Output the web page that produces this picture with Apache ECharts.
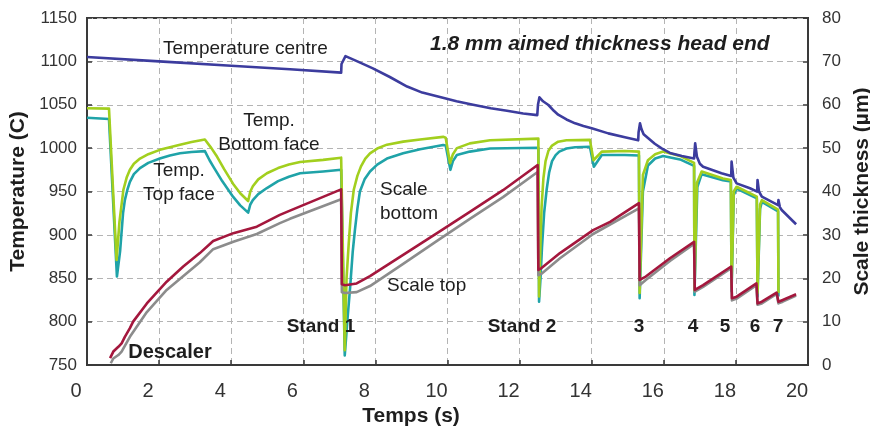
<!DOCTYPE html>
<html>
<head>
<meta charset="utf-8">
<script src="https://cdn.jsdelivr.net/npm/echarts@6/dist/echarts.min.js"></script>
<style>
  html, body { margin: 0; padding: 0; background: #fff; }
  #chart { width: 870px; height: 429px; }
</style>
</head>
<body>
<div id="chart"></div>
<script>
// Axis ranges and ticks
const timeAxis = { min: 0, max: 20, step: 2 };
const tempAxis = { min: 750, max: 1150, step: 50 };
const scaleAxis = { min: 0, max: 80, step: 10 };

// Temperature at the strip centre (°C) vs time (s)
const centreTemp = [
  [0, 1105], [2, 1100], [4, 1095], [5.63, 1091], [7.05, 1087], [7.06, 1097], [7.17, 1106],
  [7.5, 1100], [7.93, 1092], [8.4, 1082], [8.88, 1071], [9.3, 1064], [9.79, 1059], [10.25, 1054],
  [10.71, 1050], [11.2, 1046], [11.65, 1043], [12.1, 1040], [12.49, 1038], [12.51, 1050],
  [12.55, 1058.6], [12.65, 1054], [12.8, 1049.7], [12.95, 1043], [13.07, 1038.5], [13.3, 1033],
  [13.54, 1028.6], [13.77, 1025.5], [14.0, 1023], [14.46, 1017], [14.92, 1012.5], [15.29, 1009],
  [15.3, 1018], [15.34, 1028.6], [15.38, 1022], [15.44, 1016], [15.57, 1011.3], [15.75, 1005],
  [15.94, 999.8], [16.17, 994.5], [16.5, 991], [16.84, 988],
  [16.85, 995], [16.87, 1005.6], [16.92, 990], [17.0, 982], [17.09, 978.5], [17.6, 971],
  [17.87, 967.9], [17.88, 984.4], [17.93, 966], [18.02, 959.4], [18.39, 953.7], [18.59, 949.8],
  [18.6, 963.3], [18.64, 950], [18.72, 944], [19.17, 934.4], [19.18, 940.2], [19.22, 932],
  [19.27, 928.7], [19.67, 912.2]
];

// Bottom face temperature (°C)
const bottomFaceTemp = [
  [0, 1046], [0.61, 1045.5], [0.82, 871], [0.9, 915], [1.01, 952], [1.1, 966], [1.19, 975],
  [1.3, 982], [1.47, 988], [1.7, 993], [2.02, 998], [2.3, 1001], [2.58, 1004], [2.9, 1007],
  [3.27, 1010], [3.45, 1000], [3.61, 990], [3.8, 976], [4.05, 959], [4.25, 948], [4.47, 939],
  [4.53, 950], [4.6, 956], [4.75, 964], [4.99, 971], [5.3, 977], [5.6, 981], [5.91, 984],
  [6.55, 986.5], [7.05, 989], [7.15, 767], [7.2, 850], [7.26, 890], [7.32, 925], [7.4, 952],
  [7.5, 968], [7.6, 979], [7.72, 988], [7.85, 994], [8.05, 999.5], [8.32, 1004], [8.77, 1007.5],
  [9.24, 1010], [9.88, 1013], [9.95, 1012], [10.07, 982.5], [10.15, 993], [10.26, 1000],
  [10.62, 1005.5], [11.18, 1009], [12.52, 1011], [12.54, 829], [12.58, 890], [12.61, 932],
  [12.66, 965], [12.72, 985], [12.8, 997], [12.9, 1003], [13.07, 1007.4], [13.3, 1009],
  [13.95, 1009.5], [14.05, 986], [14.28, 996], [14.92, 996.7], [15.31, 996], [15.33, 833],
  [15.42, 969], [15.56, 986], [15.76, 993], [15.98, 996], [16.45, 991], [16.84, 983],
  [16.85, 836], [16.92, 960], [17.05, 973], [17.64, 965], [17.86, 963.3], [17.88, 840],
  [17.94, 950], [18.02, 955.5], [18.58, 944], [18.6, 833], [18.67, 935], [18.72, 940],
  [19.17, 929], [19.18, 833]
];

// Top face temperature (°C)
const topFaceTemp = [
  [0, 1035], [0.61, 1033.5], [0.83, 852], [0.92, 882], [1.0, 925], [1.05, 940], [1.12, 952],
  [1.19, 961], [1.3, 970], [1.47, 977], [1.7, 983], [2.02, 988], [2.3, 991.5], [2.58, 994],
  [2.9, 995.5], [3.27, 996.5], [3.4, 986], [3.5, 979], [3.75, 962], [4.05, 944], [4.25, 934],
  [4.47, 925.6], [4.53, 935], [4.6, 940], [4.75, 947], [4.99, 954], [5.3, 962], [5.6, 967],
  [5.91, 971], [6.55, 973], [7.05, 975], [7.15, 761], [7.22, 800], [7.3, 840], [7.37, 880],
  [7.43, 905], [7.5, 930], [7.57, 950], [7.7, 964], [7.85, 973], [8.05, 981], [8.32, 988],
  [8.77, 994], [9.24, 998.6], [9.88, 1003.6], [9.95, 1003], [10.08, 975], [10.15, 985],
  [10.26, 992], [10.62, 996], [11.18, 999.5], [12.52, 1000.5], [12.54, 823], [12.58, 850],
  [12.62, 885], [12.68, 925], [12.75, 952], [12.82, 972], [12.9, 985], [13.0, 992], [13.1, 996],
  [13.3, 999.5], [13.54, 1001], [13.95, 1001.5], [14.06, 978.6], [14.28, 992], [14.92, 992],
  [15.31, 991.5], [15.33, 827], [15.42, 950], [15.56, 980], [15.76, 988], [15.98, 991],
  [16.45, 987], [16.84, 979.5], [16.85, 830.7], [16.93, 955], [17.05, 970], [17.64, 963],
  [17.86, 961.5], [17.88, 835], [17.94, 946], [18.02, 953.5], [18.58, 942], [18.6, 829],
  [18.67, 930], [18.72, 938], [19.17, 927], [19.18, 829]
];

// Scale thickness on the bottom face (µm)
const scaleBottom = [
  [0.64, 1.6], [0.73, 3.1], [0.87, 4.2], [0.96, 5.0], [1.05, 6.5], [1.19, 8.5], [1.28, 10.0],
  [1.66, 14.2], [2.21, 19.2], [2.67, 22.7], [3.13, 25.8], [3.5, 28.6], [4.06, 30.4], [4.71, 31.9],
  [5.35, 34.6], [5.63, 35.6], [7.05, 40.5], [7.07, 18.6], [7.16, 18.4], [7.48, 18.8], [7.85, 20.5],
  [8.77, 25.4], [9.71, 30.4], [10.62, 35.3], [11.54, 40.3], [12.5, 46.1], [12.52, 21.9],
  [12.6, 22.3], [13.12, 25.8], [14.04, 31.1], [14.51, 33.0], [15.31, 37.3], [15.33, 19.6],
  [15.5, 20.4], [16.17, 24.6], [16.84, 28.4], [16.86, 17.3], [17.09, 18.4], [17.87, 22.7],
  [17.89, 15.4], [18.02, 15.75], [18.57, 18.8], [18.6, 14.2], [18.72, 14.6], [19.13, 16.7],
  [19.18, 14.6], [19.3, 15.0], [19.67, 16.3]
];

// Scale thickness on the top face (µm)
const scaleTop = [
  [0.66, 0.4], [0.73, 1.5], [0.87, 2.3], [0.96, 3.1], [1.19, 6.5], [1.66, 12.2], [2.21, 17.3],
  [3.13, 23.7], [3.5, 26.7], [4.06, 28.4], [4.71, 30.2], [5.35, 32.7], [5.63, 33.7], [7.05, 38.2],
  [7.07, 16.8], [7.16, 16.6], [7.48, 16.8], [7.85, 18.2], [8.77, 23.3], [9.71, 28.6], [10.62, 33.7],
  [11.54, 38.7], [12.5, 44.5], [12.52, 20.7], [12.6, 21.0], [13.12, 24.6], [14.04, 30.2],
  [15.31, 36.1], [15.33, 18.4], [15.5, 19.6], [16.17, 24.0], [16.84, 27.9], [16.86, 16.9],
  [17.09, 18.0], [17.87, 22.3], [17.89, 14.9], [18.02, 15.3], [18.57, 18.4], [18.6, 13.9],
  [18.72, 14.2], [19.13, 16.4], [19.18, 14.2], [19.3, 14.6], [19.67, 16.0]
];

const FONT = 'Liberation Sans, Arial, Helvetica, sans-serif';
const INK = '#1e1e1e';
const AXIS = '#3a3a3a';
const plain = v => String(v);

function line(name, data, color, yAxisIndex) {
  return {
    name, type: 'line', data, yAxisIndex,
    showSymbol: false, symbol: 'none', smooth: false,
    lineStyle: { color, width: 2.6, join: 'round' },
    emphasis: { disabled: true }
  };
}

function label(text, x, y, opts) {
  return {
    type: 'text', x, y, z: 100,
    style: Object.assign({
      text, fontFamily: FONT, fontSize: 19, fill: INK,
      align: 'center', verticalAlign: 'middle', lineHeight: 24
    }, opts || {})
  };
}

const chart = echarts.init(document.getElementById('chart'), null, { renderer: 'canvas' });

chart.setOption({
  animation: false,
  backgroundColor: '#fff',
  grid: {
    left: 87, right: 62, top: 18, bottom: 64,
    containLabel: false, outerBoundsMode: 'none',
    show: true, borderColor: AXIS, borderWidth: 2, backgroundColor: 'transparent'
  },
  xAxis: {
    type: 'value', min: timeAxis.min, max: timeAxis.max, interval: timeAxis.step,
    name: 'Temps (s)', nameLocation: 'middle', nameGap: 41,
    nameTextStyle: { fontFamily: FONT, fontSize: 21, fontWeight: 'bold', color: INK, padding: [0, 73, 0, 0] },
    axisLine: { show: true, lineStyle: { color: AXIS, width: 2 } },
    axisTick: { show: true, inside: true, length: 5, lineStyle: { color: AXIS, width: 1.5 } },
    axisLabel: { fontFamily: FONT, fontSize: 20, color: '#333', margin: 16, padding: [0, 22, 0, 0], formatter: plain },
    splitLine: { show: true, lineStyle: { color: '#b4b4b4', type: [6, 4], width: 1 } }
  },
  yAxis: [
    {
      type: 'value', min: tempAxis.min, max: tempAxis.max, interval: tempAxis.step,
      position: 'left',
      name: 'Temperature (C)', nameLocation: 'middle', nameGap: 55, nameRotate: 90,
      nameTextStyle: { fontFamily: FONT, fontSize: 21, fontWeight: 'bold', color: INK },
      axisLine: { show: true, lineStyle: { color: AXIS, width: 2 } },
      axisTick: { show: true, inside: true, length: 5, lineStyle: { color: AXIS, width: 1.5 } },
      axisLabel: { fontFamily: FONT, fontSize: 17, color: '#333', margin: 10, formatter: plain },
      splitLine: { show: true, lineStyle: { color: '#b4b4b4', type: [6, 4], width: 1 } }
    },
    {
      type: 'value', min: scaleAxis.min, max: scaleAxis.max, interval: scaleAxis.step,
      position: 'right',
      name: 'Scale thickness (µm)', nameLocation: 'middle', nameGap: 40, nameRotate: 90,
      nameTextStyle: { fontFamily: FONT, fontSize: 21, fontWeight: 'bold', color: INK },
      axisLine: { show: true, lineStyle: { color: AXIS, width: 2 } },
      axisTick: { show: true, inside: true, length: 5, lineStyle: { color: AXIS, width: 1.5 } },
      axisLabel: { fontFamily: FONT, fontSize: 17, color: '#333', margin: 14, formatter: plain },
      splitLine: { show: false }
    }
  ],
  series: [
    line('Temp. Top face', topFaceTemp, '#1fa3a8', 0),
    line('Temp. Bottom face', bottomFaceTemp, '#a2cf1e', 0),
    line('Scale top', scaleTop, '#8c8c8c', 1),
    line('Scale bottom', scaleBottom, '#a4173d', 1),
    line('Temperature centre', centreTemp, '#3c3c9e', 0)
  ],
  graphic: [
    label('1.8 mm aimed thickness head end', 430, 44,
      { align: 'left', fontSize: 21, fontWeight: 'bold', fontStyle: 'italic' }),
    label('Temperature centre', 163, 49, { align: 'left' }),
    label('Temp.\nBottom face', 269, 133),
    label('Temp.\nTop face', 179, 183),
    label('Scale\nbottom', 380, 202, { align: 'left' }),
    label('Scale top', 387, 286, { align: 'left' }),
    label('Descaler', 170, 352, { fontWeight: 'bold', fontSize: 20 }),
    label('Stand 1', 321, 327, { fontWeight: 'bold' }),
    label('Stand 2', 522, 327, { fontWeight: 'bold' }),
    label('3', 639, 327, { fontWeight: 'bold' }),
    label('4', 693, 327, { fontWeight: 'bold' }),
    label('5', 725, 327, { fontWeight: 'bold' }),
    label('6', 755, 327, { fontWeight: 'bold' }),
    label('7', 778, 327, { fontWeight: 'bold' })
  ]
});
</script>
</body>
</html>
